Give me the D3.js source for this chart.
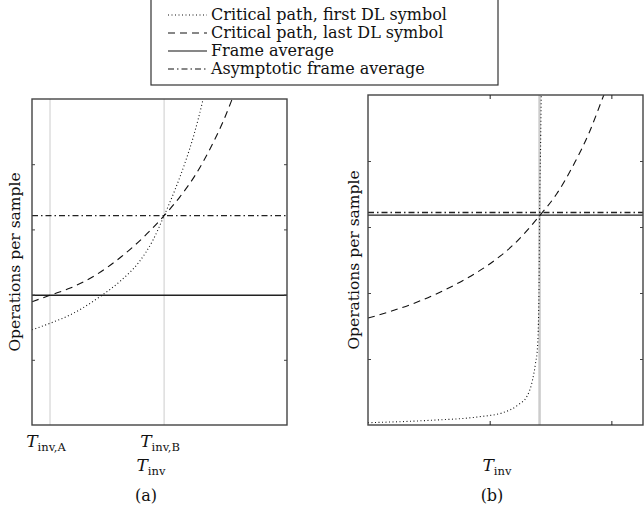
<!DOCTYPE html>
<html>
<head>
<meta charset="utf-8">
<script src="https://cdn.jsdelivr.net/npm/d3@7"></script>
<style>
  body { margin: 0; background: #fff; }
  svg { font-family: "DejaVu Serif", "Liberation Serif", serif; }
</style>
</head>
<body>
<div id="chart"></div>
<script>
// panel (a): x in arbitrary units 0..10, y in units 0..5
var aFirstX = [0, 0.706, 1.5, 2.67, 3.5, 4.2, 4.75, 5.18, 5.6, 6.0, 6.35, 6.7, 6.8];
var aFirstY = [1.46, 1.56, 1.69, 1.97, 2.22, 2.50, 2.84, 3.21, 3.60, 4.02, 4.45, 4.98, 5.15];
var aLastX = [0, 0.706, 1.5, 2.5, 3.5, 4.5, 5.18, 5.8, 6.4, 7.0, 7.5, 7.9, 8.0];
var aLastY = [1.89, 1.99, 2.10, 2.30, 2.58, 2.93, 3.21, 3.50, 3.83, 4.25, 4.66, 5.05, 5.15];
var aFrame = 1.99;
var aAsym = 3.21;
var aTicksX = [0.706, 5.18];
var aTickLabels = ['A', 'B'];

// panel (b): x in units 0..2.26, y in units 0..5
var bFirstX = [0, 0.5, 0.918, 1.107, 1.23, 1.311, 1.352, 1.377, 1.393, 1.405, 1.41, 1.418, 1.424, 1.43];
var bFirstY = [0.035, 0.07, 0.126, 0.186, 0.30, 0.45, 0.68, 0.94, 1.18, 2.0, 3.2, 4.2, 5.0, 5.4];
var bLastX = [0, 0.2, 0.4, 0.6, 0.8, 1.0, 1.2, 1.41, 1.55, 1.7, 1.82, 1.934, 1.96];
var bLastY = [1.62, 1.73, 1.86, 2.02, 2.21, 2.44, 2.74, 3.17, 3.50, 3.98, 4.44, 4.98, 5.1];
var bFrame = 3.18;
var bAsym = 3.22;
var bMarker = 1.41;
var bTicksX = [1, 2];

var yTicks = [1, 2, 3, 4];

var legendLabels = ['Critical path, first DL symbol', 'Critical path, last DL symbol',
                    'Frame average', 'Asymptotic frame average'];
var legendDash = ['1,2.5', '7,5', null, '6,3,1.5,3'];

var width = 644, height = 510;
var svg = d3.select('#chart').append('svg')
    .attr('width', width)
    .attr('height', height);

function tinv(sel, sub, size) {
  sel.append('tspan').attr('font-style', 'italic').attr('font-size', size).text('T');
  sel.append('tspan').attr('font-size', size * 0.68).attr('dy', size * 0.25).text(sub);
}

function panel(opt) {
  var x = d3.scaleLinear().domain(opt.xDomain).range([opt.left, opt.right]);
  var y = d3.scaleLinear().domain([0, 5]).range([opt.bottom, opt.top]);
  var g = svg.append('g');

  g.append('clipPath').attr('id', opt.id)
    .append('rect')
      .attr('x', opt.left).attr('y', opt.top)
      .attr('width', opt.right - opt.left).attr('height', opt.bottom - opt.top);

  // light grey verticals
  opt.grid.forEach(function(v) {
    g.append('line')
      .attr('x1', x(v)).attr('x2', x(v))
      .attr('y1', opt.top).attr('y2', opt.bottom)
      .attr('stroke', '#ccc').attr('stroke-width', opt.gridWidth);
  });

  var plot = g.append('g').attr('clip-path', 'url(#' + opt.id + ')');
  var line = d3.line().curve(d3.curveMonotoneX)
    .x(function(d) { return x(d[0]); })
    .y(function(d) { return y(d[1]); });

  plot.append('line')
    .attr('x1', opt.left).attr('x2', opt.right)
    .attr('y1', y(opt.frame)).attr('y2', y(opt.frame))
    .attr('stroke', '#222').attr('stroke-width', 1.3);
  plot.append('line')
    .attr('x1', opt.left).attr('x2', opt.right)
    .attr('y1', y(opt.asym)).attr('y2', y(opt.asym))
    .attr('stroke', '#222').attr('stroke-width', 1.3)
    .attr('stroke-dasharray', legendDash[3]);
  plot.append('path')
    .attr('d', line(d3.zip(opt.lastX, opt.lastY)))
    .attr('fill', 'none').attr('stroke', '#111').attr('stroke-width', 1.1)
    .attr('stroke-dasharray', legendDash[1]);
  plot.append('path')
    .attr('d', line(d3.zip(opt.firstX, opt.firstY)))
    .attr('fill', 'none').attr('stroke', '#111').attr('stroke-width', 1.1)
    .attr('stroke-dasharray', legendDash[0]);

  // frame with inward ticks
  g.append('rect')
    .attr('x', opt.left).attr('y', opt.top)
    .attr('width', opt.right - opt.left).attr('height', opt.bottom - opt.top)
    .attr('fill', 'none').attr('stroke', '#444').attr('stroke-width', 1.4);

  g.append('g').attr('transform', 'translate(' + opt.left + ',0)')
    .call(d3.axisRight(y).tickValues(yTicks).tickSize(3).tickFormat(''))
    .call(function(a) { a.select('.domain').remove(); a.selectAll('line').attr('stroke', '#444'); });
  g.append('g').attr('transform', 'translate(' + opt.right + ',0)')
    .call(d3.axisLeft(y).tickValues(yTicks).tickSize(3).tickFormat(''))
    .call(function(a) { a.select('.domain').remove(); a.selectAll('line').attr('stroke', '#444'); });
  if (opt.xTicks) {
    g.append('g').attr('transform', 'translate(0,' + opt.bottom + ')')
      .call(d3.axisTop(x).tickValues(opt.xTicks).tickSize(4).tickFormat(''))
      .call(function(a) { a.select('.domain').remove(); a.selectAll('line').attr('stroke', '#222'); });
    g.append('g').attr('transform', 'translate(0,' + opt.top + ')')
      .call(d3.axisBottom(x).tickValues(opt.xTicks).tickSize(4).tickFormat(''))
      .call(function(a) { a.select('.domain').remove(); a.selectAll('line').attr('stroke', '#222'); });
  }

  // y label
  g.append('text')
    .attr('transform', 'translate(' + opt.yLabelX + ',' + (opt.top + opt.bottom) / 2 + ') rotate(-90)')
    .attr('text-anchor', 'middle')
    .attr('font-size', 15.5)
    .attr('fill', '#111')
    .text('Operations per sample');

  // x label and caption
  g.append('text')
    .attr('x', opt.xLabelX).attr('y', 471)
    .attr('text-anchor', 'middle').attr('fill', '#111')
    .call(tinv, 'inv', 17);
  g.append('text')
    .attr('x', opt.xLabelX - 5).attr('y', 501)
    .attr('text-anchor', 'middle').attr('font-size', 16).attr('fill', '#111')
    .text(opt.caption);

  return x;
}

var xa = panel({
  id: 'clipA', left: 32, right: 287, top: 99, bottom: 425,
  xDomain: [0, 10], grid: aTicksX, gridWidth: 1,
  firstX: aFirstX, firstY: aFirstY, lastX: aLastX, lastY: aLastY,
  frame: aFrame, asym: aAsym, yLabelX: 20, xLabelX: 151, caption: '(a)'
});

// tick labels for panel (a)
svg.selectAll('text.tl').data(aTicksX)
  .enter().append('text')
    .attr('class', 'tl')
    .attr('x', function(d) { return xa(d) - 4; })
    .attr('y', 447)
    .attr('text-anchor', 'middle').attr('fill', '#111')
    .each(function(d, i) { d3.select(this).call(tinv, 'inv,' + aTickLabels[i], 17); });

panel({
  id: 'clipB', left: 368, right: 643, top: 95, bottom: 425,
  xDomain: [0, 2.26], grid: [bMarker], gridWidth: 2.5, xTicks: bTicksX,
  firstX: bFirstX, firstY: bFirstY, lastX: bLastX, lastY: bLastY,
  frame: bFrame, asym: bAsym, yLabelX: 359, xLabelX: 497, caption: '(b)'
});

// legend
var legend = svg.append('g');
legend.append('rect')
  .attr('x', 151).attr('y', -2).attr('width', 347).attr('height', 87)
  .attr('fill', '#fff').attr('stroke', '#333').attr('stroke-width', 1.2);
var rows = legend.selectAll('g.row').data(legendLabels)
  .enter().append('g')
    .attr('class', 'row')
    .attr('transform', function(d, i) { return 'translate(0,' + (15 + i * 18) + ')'; });
rows.append('line')
  .attr('x1', 168).attr('x2', 207)
  .attr('stroke', '#111').attr('stroke-width', 1.1)
  .attr('stroke-dasharray', function(d, i) { return legendDash[i]; });
rows.append('text')
  .attr('x', 211).attr('y', 5)
  .attr('font-size', 16).attr('fill', '#111')
  .text(function(d) { return d; });
</script>
</body>
</html>
